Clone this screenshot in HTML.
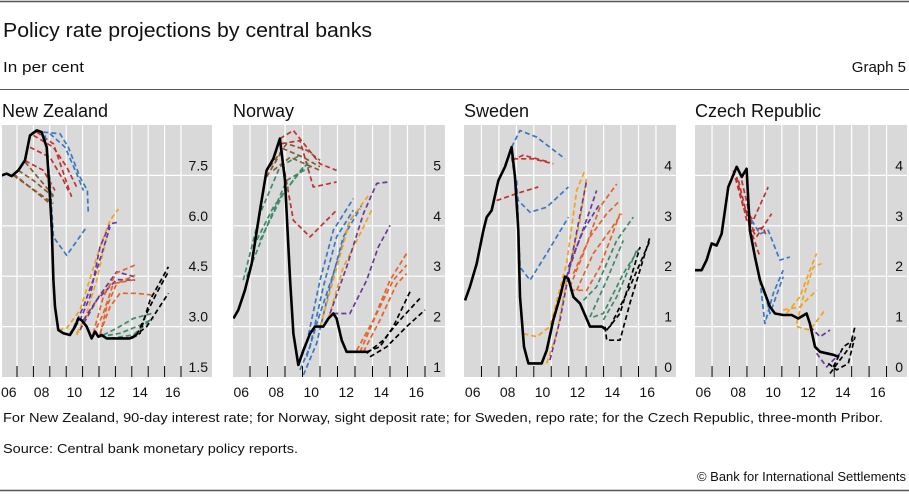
<!DOCTYPE html>
<html><head><meta charset="utf-8"><style>
html,body{margin:0;padding:0;background:#fff;}
body{width:909px;height:493px;overflow:hidden;font-family:"Liberation Sans",sans-serif;}
svg text{font-family:"Liberation Sans",sans-serif;}
</style></head><body>
<svg id="chart" width="909" height="493" viewBox="0 0 909 493" xmlns="http://www.w3.org/2000/svg">
<line x1="0" y1="1.5" x2="909" y2="1.5" stroke="#555" stroke-width="1.5"/>
<text x="3" y="37" font-size="20" fill="#111" textLength="369" lengthAdjust="spacingAndGlyphs">Policy rate projections by central banks</text>
<text x="3" y="72" font-size="15" fill="#111" textLength="81" lengthAdjust="spacingAndGlyphs">In per cent</text>
<text x="906" y="72" font-size="15" fill="#111" text-anchor="end">Graph 5</text>
<line x1="0" y1="89.5" x2="909" y2="89.5" stroke="#555" stroke-width="1"/>
<text x="3" y="422" font-size="13" fill="#111" textLength="880" lengthAdjust="spacingAndGlyphs">For New Zealand, 90-day interest rate; for Norway, sight deposit rate; for Sweden, repo rate; for the Czech Republic, three-month Pribor.</text>
<text x="3" y="453" font-size="13" fill="#111" textLength="295" lengthAdjust="spacingAndGlyphs">Source: Central bank monetary policy reports.</text>
<text x="906" y="481" font-size="13" fill="#111" text-anchor="end">© Bank for International Settlements</text>
<line x1="0" y1="490.5" x2="909" y2="490.5" stroke="#555" stroke-width="1.5"/>
<g id="panels"></g>
</svg>
<script>
// ---- data (year, per cent) ----
const nzActual=[[2006.07,7.5],[2006.37,7.55],[2006.67,7.48],[2007.08,7.65],[2007.49,7.95],[2007.79,8.69],[2008.2,8.84],[2008.5,8.79],[2008.81,8.34],[2009.01,6.86],[2009.12,5.87],[2009.22,4.38],[2009.32,3.59],[2009.52,2.9],[2009.83,2.8],[2010.23,2.75],[2010.54,3.0],[2010.74,3.24],[2010.94,3.19],[2011.25,3.0],[2011.55,2.65],[2011.76,2.85],[2011.96,2.7],[2012.16,2.75],[2012.47,2.65],[2013.89,2.65],[2014.3,2.75]];
const nzProjections=[
['brown',[[2006.78,7.5],[2009.22,6.66]]],['brown',[[2007.08,7.65],[2008.0,7.35],[2009.22,6.86]]],['brown',[[2007.49,7.9],[2009.22,6.9]]],['brown',[[2006.78,7.55],[2007.79,7.15],[2009.01,6.66]]],
['red',[[2008.2,8.79],[2009.22,8.44],[2010.33,6.86]]],['red',[[2007.79,8.34],[2009.01,8.04],[2009.83,7.35],[2010.13,7.05]]],['red',[[2007.49,7.94],[2008.61,7.65],[2009.32,7.05]]],['red',[[2008.0,8.69],[2009.22,8.34],[2010.03,7.75],[2010.64,7.15]]],
['blue',[[2008.71,8.69],[2009.01,7.35],[2009.22,5.67],[2010.03,5.12],[2011.25,5.97]]],['blue',[[2008.61,8.79],[2009.62,8.74],[2010.13,8.34],[2010.84,7.45],[2011.29,7.05],[2011.35,6.36]]],['blue',[[2009.01,8.74],[2009.93,8.34],[2010.64,7.55],[2011.05,7.05]]],
['orange',[[2009.52,2.9],[2010.03,2.95],[2010.84,3.49],[2012.06,5.37],[2012.67,6.16],[2013.18,6.5]]],['orange',[[2010.64,2.75],[2011.25,3.39],[2011.86,4.38],[2012.47,5.67]]],['orange',[[2010.64,2.8],[2011.45,3.49],[2012.06,3.94],[2012.67,4.2]]],
['purple',[[2010.23,2.8],[2010.84,3.19],[2011.45,3.89],[2012.06,5.37],[2012.67,6.06],[2013.18,6.11]]],['purple',[[2010.23,2.75],[2011.05,3.59],[2011.86,4.68],[2012.67,5.97]]],['purple',[[2011.05,3.19],[2012.06,3.94],[2013.08,4.63],[2014.2,4.48]]],['purple',[[2010.84,2.9],[2011.86,3.79],[2013.08,4.4],[2014.2,4.38]]],
['vermilion',[[2011.65,2.8],[2012.26,3.89],[2013.08,4.6],[2014.2,4.83]]],['vermilion',[[2012.06,2.75],[2012.47,3.59],[2013.08,4.28],[2014.2,4.53]]],['vermilion',[[2012.06,2.8],[2012.67,3.59],[2013.28,3.99],[2014.3,3.99],[2015.21,3.94]]],['vermilion',[[2011.65,2.75],[2012.26,3.39],[2012.87,4.28],[2014.2,4.4]]],
['green',[[2012.26,2.75],[2013.08,2.95],[2014.09,3.24],[2015.21,3.39]]],['green',[[2012.06,2.7],[2013.28,2.8],[2014.5,3.04],[2015.31,3.24]]],['green',[[2012.67,2.65],[2014.09,2.75],[2015.11,3.19]]],
['black',[[2013.99,2.65],[2014.5,2.8],[2015.11,3.79],[2016.23,4.78]]],['black',[[2014.3,2.75],[2014.91,3.4],[2015.52,4.0],[2016.23,4.63]]],['black',[[2014.09,2.7],[2014.91,3.0],[2016.23,3.99]]]
];
const noActual=[[2006.05,2.16],[2006.33,2.33],[2006.71,2.72],[2007.1,3.25],[2007.57,4.31],[2007.95,5.1],[2008.33,5.33],[2008.71,5.73],[2009.0,4.9],[2009.29,2.92],[2009.48,1.86],[2009.76,1.24],[2010.05,1.53],[2010.43,1.86],[2010.71,2.0],[2011.19,2.0],[2011.48,2.16],[2011.76,2.26],[2011.95,2.16],[2012.24,1.73],[2012.52,1.5],[2013.67,1.5]];
const noProjections=[
['brown',[[2007.95,4.97],[2008.9,5.53],[2010.05,5.36],[2011.0,5.17]]],['brown',[[2008.14,5.17],[2009.1,5.63],[2010.24,5.5],[2011.0,5.3]]],['brown',[[2008.33,5.1],[2009.29,5.36],[2011.0,5.1]]],
['red',[[2008.71,5.73],[2009.48,5.89],[2010.24,5.56],[2011.0,5.23],[2011.95,5.1]]],['red',[[2008.8,5.63],[2009.86,5.69],[2010.62,4.77],[2011.95,4.87]]],['red',[[2008.9,5.23],[2009.48,4.11],[2010.43,3.78],[2011.95,4.31]]],
['green',[[2006.62,2.92],[2007.57,4.24],[2008.71,5.17],[2009.86,5.4]]],['green',[[2006.81,2.99],[2007.95,3.98],[2009.1,4.9],[2010.43,5.17]]],['green',[[2007.19,3.58],[2008.33,4.37],[2009.48,4.9],[2010.43,5.3]]],['green',[[2007.57,3.71],[2008.9,4.64],[2010.05,5.17]]],
['blue',[[2009.76,1.24],[2010.24,1.67],[2011.0,2.92],[2011.76,3.91],[2012.9,4.54]]],['blue',[[2009.86,1.14],[2010.43,1.6],[2011.19,2.79],[2011.95,3.78],[2012.9,4.31]]],['blue',[[2010.05,1.04],[2010.81,1.67],[2011.57,2.79],[2012.33,3.78],[2013.29,4.34]]],['blue',[[2010.24,1.4],[2011.0,2.26],[2011.76,3.05],[2012.71,4.11],[2013.38,4.4]]],
['orange',[[2011.0,2.0],[2011.76,2.92],[2012.71,4.11],[2013.86,4.64]]],['orange',[[2011.48,2.16],[2012.33,3.18],[2013.29,3.84],[2013.95,4.31]]],
['purple',[[2011.57,2.26],[2012.52,3.18],[2013.48,4.24],[2014.24,4.84],[2014.9,4.87]]],['purple',[[2011.76,2.26],[2012.71,2.26],[2013.67,2.92],[2014.33,3.58],[2015.0,4.01]]],
['vermilion',[[2013.1,1.53],[2014.05,2.13],[2015.0,2.92],[2015.95,3.45]]],['vermilion',[[2013.29,1.5],[2014.24,2.26],[2015.19,2.92],[2015.95,3.22]]],['vermilion',[[2013.48,1.5],[2014.43,2.13],[2015.38,2.85],[2015.95,3.05]]],
['black',[[2013.67,1.5],[2014.43,1.6],[2015.19,2.0],[2016.14,2.69]]],['black',[[2013.67,1.47],[2014.62,1.73],[2015.57,2.13],[2016.71,2.56]]],['black',[[2013.86,1.4],[2014.81,1.6],[2015.95,2.0],[2017.0,2.33]]]
];
const seActual=[[2006.06,1.52],[2006.34,1.79],[2006.73,2.25],[2007.11,2.91],[2007.3,3.17],[2007.59,3.31],[2007.97,3.9],[2008.35,4.17],[2008.73,4.56],[2008.92,3.97],[2009.11,2.91],[2009.21,1.59],[2009.44,0.6],[2009.69,0.27],[2010.45,0.27],[2010.74,0.53],[2011.12,1.13],[2011.5,1.59],[2011.79,1.99],[2011.98,1.95],[2012.27,1.59],[2012.65,1.46],[2013.22,1.0],[2013.89,1.0],[2014.18,0.93]];
const seProjections=[
['red',[[2007.87,3.5],[2009.02,3.64],[2010.26,3.77]]],['red',[[2008.73,4.3],[2009.4,4.4],[2010.93,4.26]]],['red',[[2008.82,4.33],[2009.97,4.33],[2011.12,4.23]]],
['blue',[[2008.73,4.56],[2009.21,4.89],[2010.16,4.76],[2011.79,4.33]]],['blue',[[2008.73,4.36],[2009.11,3.5],[2009.78,3.27],[2010.74,3.37],[2011.98,3.77]]],['blue',[[2009.02,3.9],[2009.21,2.18],[2009.78,1.92],[2010.74,2.45],[2011.98,3.17]]],
['orange',[[2009.4,0.86],[2010.16,0.8],[2010.93,1.0],[2011.88,2.25],[2012.46,3.7],[2012.93,4.1]]],['orange',[[2010.74,0.27],[2011.31,0.86],[2011.88,1.92],[2012.65,3.11],[2013.03,3.97]]],
['purple',[[2010.93,0.34],[2011.5,1.13],[2012.07,2.18],[2013.03,3.9]]],['purple',[[2011.88,1.99],[2012.46,2.58],[2013.22,3.31],[2013.6,3.7]]],['purple',[[2011.98,2.18],[2012.84,2.91],[2013.79,3.44]]],
['vermilion',[[2012.07,1.79],[2012.84,2.45],[2013.79,3.37],[2014.75,3.83]]],['vermilion',[[2012.27,2.05],[2013.22,2.78],[2014.18,3.24],[2014.94,3.5]]],['vermilion',[[2012.46,1.72],[2013.41,2.45],[2014.37,2.91],[2015.03,3.24]]],['vermilion',[[2012.07,1.72],[2013.03,1.72],[2013.79,2.18],[2014.94,3.24]]],
['green',[[2012.84,1.52],[2013.6,1.79],[2014.75,2.71],[2015.7,3.17]]],['green',[[2013.22,1.19],[2014.18,1.92],[2015.13,2.71]]],['green',[[2013.41,1.19],[2013.98,1.26],[2015.13,2.05],[2016.09,2.58]]],['green',[[2013.98,1.13],[2014.75,1.59],[2015.89,2.51]]],
['black',[[2014.08,1.0],[2014.18,0.73],[2014.94,0.73],[2015.51,1.46],[2016.66,2.78]]],['black',[[2014.18,0.93],[2014.94,1.26],[2016.09,2.58]]],['black',[[2014.37,1.0],[2015.51,1.79],[2016.66,2.71]]]
];
const czActual=[[2006.02,2.12],[2006.4,2.12],[2006.69,2.32],[2006.98,2.65],[2007.26,2.61],[2007.55,2.84],[2007.93,3.77],[2008.41,4.17],[2008.7,3.97],[2008.98,4.13],[2009.17,2.91],[2009.46,2.38],[2009.75,1.92],[2010.03,1.66],[2010.32,1.39],[2010.61,1.26],[2011.08,1.23],[2011.56,1.23],[2011.94,1.16],[2012.42,1.26],[2012.61,1.06],[2012.9,0.6],[2013.19,0.5],[2013.57,0.47],[2013.95,0.44],[2014.24,0.4]];
const czProjections=[
['red',[[2008.22,4.1],[2008.79,3.37],[2009.36,3.11],[2010.22,3.77]]],['red',[[2008.41,3.97],[2008.98,3.11],[2009.55,2.78],[2010.41,3.24]]],['red',[[2008.51,3.9],[2009.17,2.97],[2009.75,2.38]]],['red',[[2008.7,3.9],[2009.36,2.91],[2009.93,2.97],[2010.12,2.78]]],
['blue',[[2009.27,3.11],[2009.75,2.84],[2010.22,2.91],[2010.89,2.32],[2011.46,2.38]]],['blue',[[2009.75,1.92],[2010.03,1.06],[2010.51,1.66],[2011.08,2.12]]],['blue',[[2009.93,1.79],[2010.32,1.26],[2011.08,1.99]]],
['orange',[[2011.27,1.26],[2012.03,1.59],[2012.61,2.12],[2012.99,2.45]]],['orange',[[2011.85,1.06],[2012.23,1.59],[2012.8,2.18],[2013.28,2.25]]],['orange',[[2011.85,1.0],[2012.61,0.93],[2013.47,1.33]]],['orange',[[2011.08,1.33],[2012.03,1.39],[2012.99,1.72]]],
['purple',[[2012.61,1.0],[2013.19,0.8],[2013.76,0.93]]],['purple',[[2012.99,0.47],[2013.57,0.2],[2014.33,0.47]]],
['black',[[2013.76,0.07],[2014.33,0.34],[2014.9,0.6],[2015.19,1.0]]],['black',[[2013.66,0.27],[2014.14,0.14],[2014.81,0.27],[2015.19,0.8]]],['black',[[2013.95,0.2],[2014.52,0.6],[2015.1,0.73]]]
];
const nzTicks=['1.5','3.0','4.5','6.0','7.5'];
const noTicks=['1','2','3','4','5'];
const seTicks=['0','1','2','3','4'];
const czTicks=['0','1','2','3','4'];
const yearLabels=['06','08','10','12','14','16'];
const panelTitles=['New Zealand','Norway','Sweden','Czech Republic'];

// ---- layout ----
const colors={brown:'#8a5a2e',red:'#c0322f',blue:'#3a78c4',orange:'#f2a21e',purple:'#6b3a96',vermilion:'#e5622a',green:'#3d8a68',black:'#000'};
const panels=[
 {key:'nz',gx0:2,gx1:212,x06:0.6,yw:16.4,ymin:1.5,ymax:9,ticks:nzTicks,act:nzActual,proj:nzProjections,tx:2},
 {key:'norway',gx0:233,gx1:445,x06:232.5,yw:17.5,ymin:1,ymax:6,ticks:noTicks,act:noActual,proj:noProjections,tx:233},
 {key:'sweden',gx0:464,gx1:676,x06:464,yw:17.45,ymin:0,ymax:5,ticks:seTicks,act:seActual,proj:seProjections,tx:464},
 {key:'czech',gx0:695,gx1:907,x06:694.6,yw:17.45,ymin:0,ymax:5,ticks:czTicks,act:czActual,proj:czProjections,tx:695}
];
const NS='http://www.w3.org/2000/svg';
const panelRoot=document.getElementById('panels');
const plotTop=125,plotBot=377;
function mk(tag,attrs,parent){const e=document.createElementNS(NS,tag);for(const k in attrs)e.setAttribute(k,attrs[k]);parent.appendChild(e);return e;}
panels.forEach((p,i)=>{
 const xs=y=>p.x06+(y-2006)*p.yw;
 const ys=v=>plotBot-(v-p.ymin)/(p.ymax-p.ymin)*(plotBot-plotTop);
 const g=mk('g',{},panelRoot);
 
 
 const t=mk('text',{x:p.tx,y:117,'font-size':18,fill:'#111'},g);t.textContent=panelTitles[i];
 
 
 const bg=mk('rect',{x:p.gx0,y:plotTop,width:p.gx1-p.gx0,height:plotBot-plotTop,fill:'#d9d9d9'},g);
 
 
 const cp=mk('clipPath',{id:'clip'+i},g);mk('rect',{x:p.gx0,y:plotTop,width:p.gx1-p.gx0,height:plotBot-plotTop},cp);
 p.ticks.forEach(s=>{const v=parseFloat(s);const y=ys(v);
  if(v>p.ymin){const gl=mk('line',{x1:p.gx0,x2:p.gx1,y1:y,y2:y,stroke:'#fff','stroke-width':1.2},g);
   
   }
  const lb=mk('text',{x:p.gx1-4,y:y-5,'font-size':14,fill:'#111','text-anchor':'end'},g);lb.textContent=s;
  
  
 });
 for(let yr=2007;yr<=2017;yr++){const x=xs(yr);
  const vl=mk('line',{x1:x,x2:x,y1:plotTop,y2:plotBot,stroke:'#fff','stroke-width':1.2},g);
  
  
  const tk=mk('line',{x1:x,x2:x,y1:plotBot-11,y2:plotBot,stroke:'#000','stroke-width':1},g);
  
  }
 yearLabels.forEach(l=>{const yr=2000+parseInt(l,10);const lb=mk('text',{x:xs(yr+0.5),y:397,'font-size':14,fill:'#111','text-anchor':'middle'},g);lb.textContent=l;
  
  });
 const lg=mk('g',{'clip-path':'url(#clip'+i+')'},g);
 p.proj.forEach(([c,pts])=>{const pl=mk('polyline',{points:pts.map(q=>xs(q[0]).toFixed(1)+','+ys(q[1]).toFixed(1)).join(' '),fill:'none',stroke:colors[c],'stroke-width':1.7,'stroke-dasharray':'5 3','stroke-linejoin':'round'},lg);
  
  });
 const al=mk('polyline',{points:p.act.map(q=>xs(q[0]).toFixed(1)+','+ys(q[1]).toFixed(1)).join(' '),fill:'none',stroke:'#000','stroke-width':2.6,'stroke-linejoin':'round'},lg);
 
 
});
</script>
</body></html>
